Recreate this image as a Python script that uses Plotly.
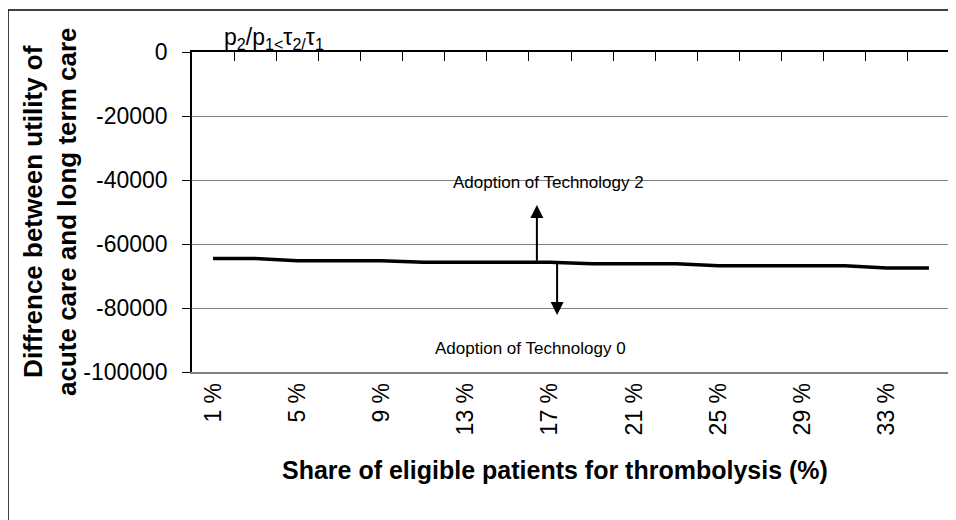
import plotly.graph_objects as go

# share of eligible patients for thrombolysis (%)
shares = [1, 3, 5, 7, 9, 11, 13, 15, 17, 19, 21, 23, 25, 27, 29, 31, 33, 35]
# difference between utility of acute care and long term care
diff_utility = [-64500, -64500, -65200, -65200, -65200, -65700, -65700, -65700, -65700,
                -66200, -66200, -66200, -66800, -66800, -66800, -66800, -67500, -67500]

y_ticks = [0, -20000, -40000, -60000, -80000, -100000]
y_ticktext = ["0", "-20000", "-40000", "-60000", "-80000", "-100000"]

idx = list(range(len(shares)))
label_idx = idx[::2]
label_text = [f"{shares[i]} %" for i in label_idx]
boundaries = [i - 0.5 for i in range(len(shares) + 1)]

# arrows: (x position in category units, tail y, head y)
arrow_up = (7.69, -65700, -47800)
arrow_down = (8.17, -65000, -82200)

FONT = "Arial, Liberation Sans, sans-serif"

# page has an 8px body margin, so the figure is drawn 8px in from the window edge
OFF = 8
W, H = 956 - OFF, 520 - OFF
# plot area in window pixels
PX0, PX1, PY0, PY1 = 192, 950, 52, 372
L, T = PX0 - OFF, PY0 - OFF
R, B = W + OFF - PX1, H + OFF - PY1
pw, ph = PX1 - PX0, PY1 - PY0


def px(x):
    return (x - PX0) / pw


def py(y):
    return (PY1 - y) / ph


def label(text, x, y, size, **kw):
    return dict(text=text, x=px(x), y=py(y), xref="paper", yref="paper",
                xanchor=kw.pop("xanchor", "center"), yanchor="middle",
                showarrow=False, font=dict(size=size, color="black", family=FONT), **kw)


fig = go.Figure()

fig.add_trace(go.Scatter(
    x=idx,
    y=diff_utility,
    mode="lines",
    line=dict(color="black", width=3.5),
    showlegend=False,
    hoverinfo="skip",
))
# invisible trace so the top (zero-crossing) axis is drawn
fig.add_trace(go.Scatter(
    x=[boundaries[0]], y=[0], xaxis="x2", mode="markers",
    marker=dict(opacity=0), showlegend=False, hoverinfo="skip",
))

annotations = []
for x, y0, y1 in (arrow_up, arrow_down):
    annotations.append(dict(
        x=x, y=y1, ax=x, ay=y0, xref="x", yref="y", axref="x", ayref="y",
        showarrow=True, arrowhead=2, arrowsize=1.3, arrowwidth=2, arrowcolor="black",
        text="",
    ))

annotations += [
    label("Adoption of Technology 2", 548, 182, 17),
    label("Adoption of Technology 0", 530, 348, 17),
    label("p<sub>2</sub>/p<sub>1&lt;</sub>τ<sub>2/</sub>τ<sub>1</sub>", 222, 38, 23,
          xanchor="left"),
    label("<b>Share of eligible patients for thrombolysis (%)</b>", 555, 470, 25),
    label("<b>Diffrence between utility of<br>acute care and long term care</b>",
          50, 212, 26, textangle=-90),
]

fig.update_layout(
    width=W,
    height=H,
    margin=dict(l=L, r=R, t=T, b=B),
    paper_bgcolor="white",
    plot_bgcolor="white",
    font=dict(family=FONT, color="black"),
    xaxis=dict(
        range=[-0.5, len(shares) - 0.5],
        tickvals=label_idx,
        ticktext=label_text,
        tickangle=-90,
        tickfont=dict(size=23),
        ticks="",
        showgrid=False,
        zeroline=False,
        showline=True,
        linecolor="#808080",
        linewidth=1.5,
    ),
    xaxis2=dict(
        overlaying="x",
        side="top",
        range=[-0.5, len(shares) - 0.5],
        tickvals=boundaries,
        showticklabels=False,
        ticks="inside",
        ticklen=9,
        tickcolor="black",
        showgrid=False,
        zeroline=False,
        showline=True,
        linecolor="black",
        linewidth=1.5,
    ),
    yaxis=dict(
        range=[-100000, 0],
        tickvals=y_ticks,
        ticktext=y_ticktext,
        tickfont=dict(size=23),
        ticks="outside",
        ticklen=8,
        tickcolor="black",
        ticklabelstandoff=10,
        showgrid=True,
        gridcolor="#808080",
        gridwidth=1,
        zeroline=False,
        showline=True,
        linecolor="black",
        linewidth=1.5,
    ),
    annotations=annotations,
    shapes=[
        # right plot border
        dict(type="line", xref="paper", yref="paper", x0=1, x1=1, y0=0, y1=1,
             line=dict(color="#808080", width=2)),
        # outer frame (left and top edges)
        dict(type="line", xref="paper", yref="paper",
             x0=px(8), x1=px(8), y0=-0.5, y1=py(10),
             line=dict(color="black", width=1.5)),
        dict(type="line", xref="paper", yref="paper",
             x0=px(8), x1=1.1, y0=py(10), y1=py(10),
             line=dict(color="black", width=1.5)),
    ],
)

fig.write_html("out.html")
